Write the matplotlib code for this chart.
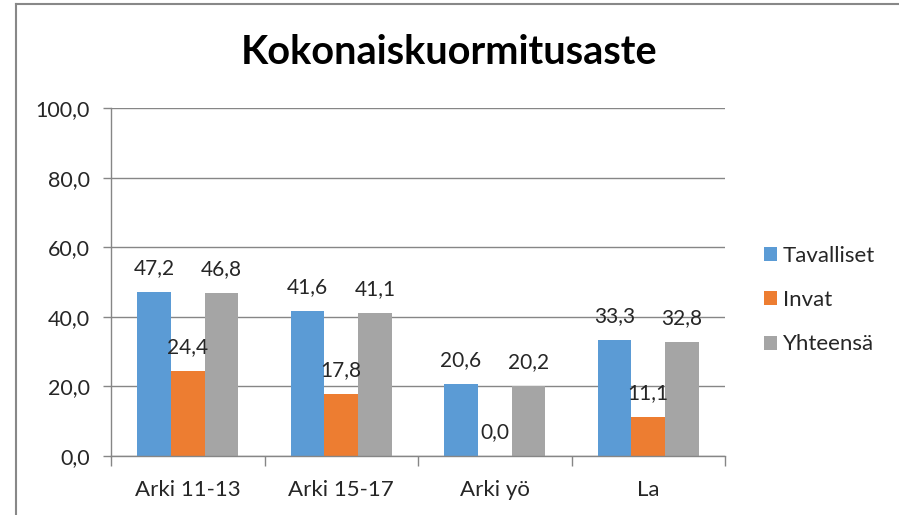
import matplotlib
matplotlib.use("Agg")
import matplotlib.pyplot as plt
import numpy as np
from matplotlib.lines import Line2D

categories = ["Arki 11-13", "Arki 15-17", "Arki yö", "La"]
series_names = ["Tavalliset", "Invat", "Yhteensä"]
tavalliset = [47.2, 41.6, 20.6, 33.3]
invat = [24.4, 17.8, 0.0, 11.1]
yhteensa = [46.8, 41.1, 20.2, 32.8]
yticks = [0, 20, 40, 60, 80, 100]
title = "Kokonaiskuormitusaste"

colors = ["#5B9BD5", "#ED7D31", "#A5A5A5"]
plt.rcParams['font.family'] = ['Lato', 'DejaVu Sans']

W, H = 899, 515
fig = plt.figure(figsize=(W / 100, H / 100), dpi=100)
ax = fig.add_axes([111 / W, 1 - 456 / H, (725 - 111) / W, (456 - 108) / H])

x = np.arange(len(categories))
bw = 0.22
series = [tavalliset, invat, yhteensa]
handles = []
for i, (vals, name, c) in enumerate(zip(series, series_names, colors)):
    b = ax.bar(x + (i - 1) * bw, vals, bw, color=c, label=name, zorder=3)
    handles.append(b)
    for xi, v in zip(x + (i - 1) * bw, vals):
        ax.annotate(f"{v:.1f}".replace(".", ","), (xi, v), xytext=(0, 13),
                    textcoords="offset points", ha="center", va="baseline",
                    fontsize=15, color="#262626", zorder=5)

ax.set_xlim(-0.5, len(categories) - 0.5)
ax.set_ylim(0, 100)
ax.set_yticks(yticks)
ax.set_yticklabels([f"{v:.1f}".replace(".", ",") for v in yticks], fontsize=15.5, color="#262626")
ax.set_xticks(x)
ax.set_xticklabels(categories, fontsize=16, color="#262626")
ax.set_xticks(np.arange(-0.5, len(categories)), minor=True)
ax.tick_params(axis="x", which="major", length=0, pad=17)
ax.tick_params(axis="x", which="minor", length=7, color="#868686", width=1)
ax.tick_params(axis="y", length=6, color="#868686", width=1, pad=9)
ax.yaxis.grid(True, color="#868686", linewidth=1, zorder=0)
for s in ["top", "right"]:
    ax.spines[s].set_visible(False)
for s in ["left", "bottom"]:
    ax.spines[s].set_color("#868686")
    ax.spines[s].set_linewidth(1)
ax.spines["bottom"].set_zorder(4)

fig.text(0.5, 1 - 64 / H, title, ha="center", va="baseline", fontsize=28.5,
         fontweight="bold", color="black")

leg = fig.legend(handles=handles, labels=series_names, loc="upper left",
                 bbox_to_anchor=(764 / W, 1 - 246 / H), frameon=False,
                 fontsize=16, handlelength=0.59, handleheight=0.59,
                 handletextpad=0.27, labelspacing=1.09, borderaxespad=0,
                 borderpad=0)
for t in leg.get_texts():
    t.set_color("#262626")

# outer chart frame (left and top edges visible)
fig.add_artist(Line2D([16 / W, 16 / W], [0, 1 - 4 / H], transform=fig.transFigure,
                      color="#888888", linewidth=1.5))
fig.add_artist(Line2D([16 / W, 1], [1 - 4 / H, 1 - 4 / H], transform=fig.transFigure,
                      color="#888888", linewidth=1.5))

fig.savefig("out.png", dpi=100)
